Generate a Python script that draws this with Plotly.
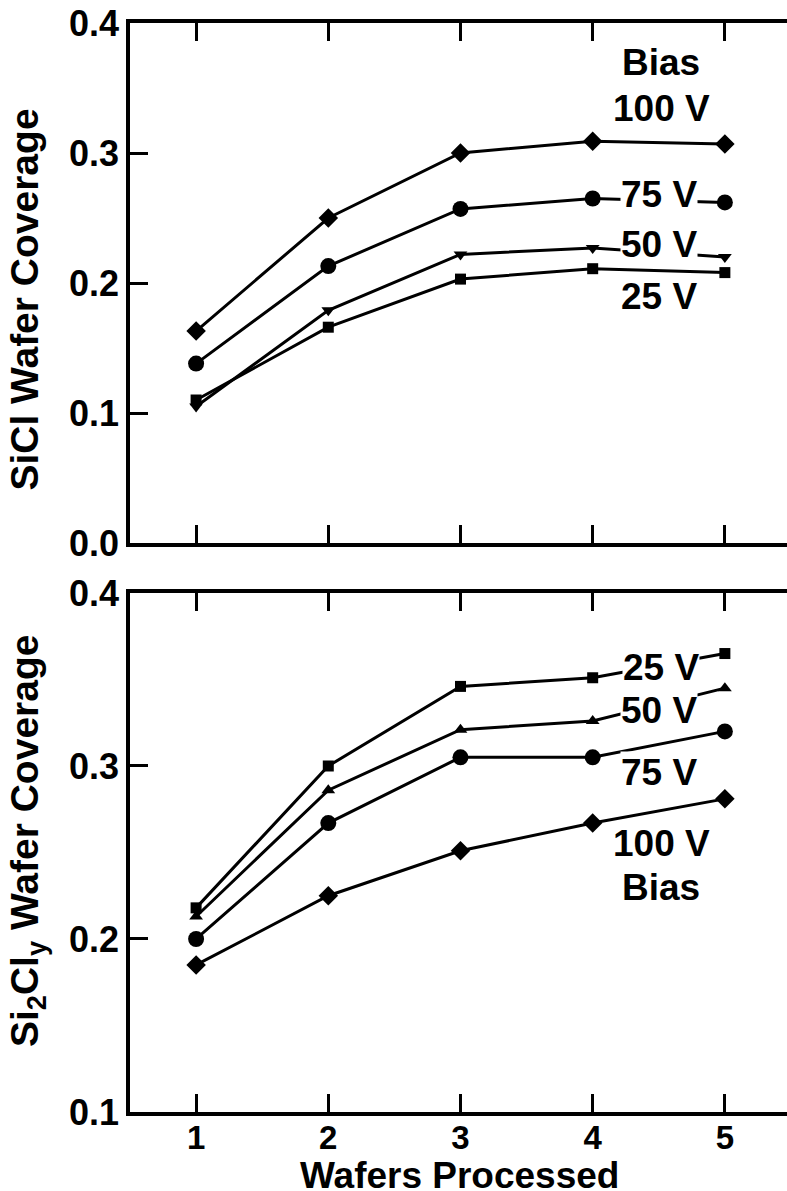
import plotly.graph_objects as go

wafers = [1, 2, 3, 4, 5]

# Top panel: SiCl wafer coverage
sicl_100 = [0.163, 0.250, 0.300, 0.309, 0.307]
sicl_75 = [0.138, 0.213, 0.257, 0.265, 0.262]
sicl_50 = [0.105, 0.179, 0.222, 0.227, 0.220]
sicl_25 = [0.110, 0.166, 0.203, 0.211, 0.208]

# Bottom panel: Si2Cly wafer coverage
si2cly_25 = [0.218, 0.300, 0.346, 0.351, 0.365]
si2cly_50 = [0.213, 0.286, 0.321, 0.326, 0.345]
si2cly_75 = [0.200, 0.267, 0.305, 0.305, 0.320]
si2cly_100 = [0.185, 0.225, 0.251, 0.267, 0.281]

top_ticks = [0.0, 0.1, 0.2, 0.3, 0.4]
bot_ticks = [0.1, 0.2, 0.3, 0.4]

FONT = "Liberation Sans"
BLACK = "#000000"

fig = go.Figure()

def add_series(x, y, symbol, size, xa, ya):
    fig.add_trace(go.Scatter(
        x=x, y=y, mode="lines+markers", xaxis=xa, yaxis=ya,
        line=dict(color=BLACK, width=3),
        marker=dict(symbol=symbol, size=size, color=BLACK, line=dict(width=0)),
        showlegend=False, hoverinfo="skip"))

add_series(wafers, sicl_100, "diamond", 15, "x", "y")
add_series(wafers, sicl_75, "circle", 16, "x", "y")
add_series(wafers, sicl_50, "triangle-down", 12, "x", "y")
add_series(wafers, sicl_25, "square", 11, "x", "y")

add_series(wafers, si2cly_25, "square", 11, "x2", "y2")
add_series(wafers, si2cly_50, "triangle-up", 12, "x2", "y2")
add_series(wafers, si2cly_75, "circle", 16, "x2", "y2")
add_series(wafers, si2cly_100, "diamond", 15, "x2", "y2")

xr = [0.5, 5.47]
ytickfont = dict(family=FONT, size=36, color=BLACK, weight="bold")
xtickfont = dict(family=FONT, size=33, color=BLACK, weight="bold")
xcommon = dict(range=xr, tickvals=wafers, ticks="inside", ticklen=18, tickwidth=3,
               tickcolor=BLACK, showline=True, linewidth=3.5, linecolor=BLACK,
               mirror="ticks", showgrid=False, zeroline=False)
ycommon = dict(ticks="inside", ticklen=18, tickwidth=3, tickcolor=BLACK,
               showline=True, linewidth=3.5, linecolor=BLACK, showgrid=False,
               zeroline=False, tickformat=".1f", tickfont=ytickfont)

top_dom = [0.5225, 1.0]
bot_dom = [0.0, 0.4766]

fig.update_layout(
    width=787, height=1191,
    margin=dict(l=130, r=0, t=23, b=79),
    paper_bgcolor="white", plot_bgcolor="white",
    font=dict(family=FONT, color=BLACK),
    xaxis=dict(domain=[0, 1], anchor="y", showticklabels=False, **xcommon),
    yaxis=dict(domain=top_dom, anchor="x", range=[0.0, 0.4], tickvals=top_ticks, **ycommon),
    xaxis2=dict(domain=[0, 1], anchor="y2", showticklabels=True, tickfont=xtickfont,
                ticklabelstandoff=-6, **xcommon),
    yaxis2=dict(domain=bot_dom, anchor="x2", range=[0.1, 0.4], tickvals=bot_ticks, **ycommon),
    yaxis3=dict(overlaying="y", anchor="x", side="right", range=[0.0, 0.4], tickvals=top_ticks,
                ticks="inside", ticklen=14, tickwidth=3, tickcolor=BLACK, showline=False,
                showticklabels=False, showgrid=False, zeroline=False),
    yaxis4=dict(overlaying="y2", anchor="x2", side="right", range=[0.1, 0.4], tickvals=bot_ticks,
                ticks="inside", ticklen=14, tickwidth=3, tickcolor=BLACK, showline=False,
                showticklabels=False, showgrid=False, zeroline=False),
)

afont = dict(family=FONT, size=37, color=BLACK, weight="bold")

def label(text, x, y, xref, yref):
    fig.add_annotation(text=text, x=x, y=y, xref=xref, yref=yref, showarrow=False,
                       font=afont, bgcolor="white", borderpad=0,
                       xanchor="center", yanchor="middle")

label("Bias", 4.52, 0.370, "x", "y")
label("100 V", 4.52, 0.334, "x", "y")
label("75 V", 4.5, 0.268, "x", "y")
label("50 V", 4.5, 0.230, "x", "y")
label("25 V", 4.5, 0.190, "x", "y")

label("25 V", 4.52, 0.357, "x2", "y2")
label("50 V", 4.5, 0.332, "x2", "y2")
label("75 V", 4.5, 0.296, "x2", "y2")
label("100 V", 4.52, 0.255, "x2", "y2")
label("Bias", 4.52, 0.230, "x2", "y2")

yfont = dict(family=FONT, size=39, color=BLACK, weight="bold")
xfont = dict(family=FONT, size=37, color=BLACK, weight="bold")
fig.add_annotation(text="SiCl Wafer Coverage", textangle=-90, x=-0.162, y=0.7456,
                   xref="paper", yref="paper", showarrow=False, font=yfont,
                   xanchor="center", yanchor="middle")
fig.add_annotation(text="Si<sub>2</sub>Cl<sub>y</sub> Wafer Coverage", textangle=-90,
                   x=-0.155, y=0.2489, xref="paper", yref="paper", showarrow=False,
                   font=yfont, xanchor="center", yanchor="middle")
fig.add_annotation(text="Wafers Processed", x=0.502, y=-0.0580, xref="paper", yref="paper",
                   showarrow=False, font=xfont, xanchor="center", yanchor="middle")

fig.write_html("out.html", config={"displayModeBar": False},
               post_script="document.body.style.margin='0';")
